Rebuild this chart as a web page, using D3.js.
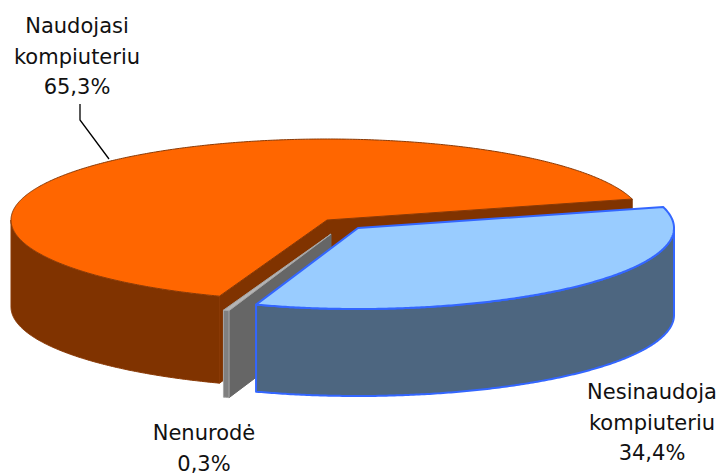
<!DOCTYPE html>
<html>
<head>
<meta charset="utf-8">
<script src="https://cdn.jsdelivr.net/npm/d3@7"></script>
<style>
  html, body { margin: 0; padding: 0; background: #fff; }
  text { font-family: "DejaVu Sans", sans-serif; font-size: 21px; fill: #111; }
</style>
</head>
<body>
<svg id="chart" width="720" height="474"></svg>
<script>
const categories = ['Naudojasi kompiuteriu', 'Nesinaudoja kompiuteriu', 'Nenurodė']
const shares = [65.3, 34.4, 0.3]
const shareLabels = ['65,3%', '34,4%', '0,3%']

const topColors = ['#ff6600', '#99ccff', '#b5b5b5']
const sideColors = ['#803300', '#4d6680', '#666666']
const edgeColors = ['#8a3a06', '#3366ff', '#a6a6a6']

const width = 720
const height = 474
const center = [327, 220]
const radiusX = 316
const radiusY = 81
const depth = 87
const explode = [[0, 0], [31, 8], [4, 14]]
const toRad = Math.PI / 180

const svg = d3.select('#chart').attr('width', width).attr('height', height)

// unit circle -> flattened ellipse
const xScale = d3.scaleLinear().domain([-1, 1]).range([center[0] - radiusX, center[0] + radiusX])
const yScale = d3.scaleLinear().domain([-1, 1]).range([center[1] - radiusY, center[1] + radiusY])

const arcs = d3.pie().sort(null).value(d => d)
  .startAngle(199.9 * toRad)
  .endAngle((199.9 + 360) * toRad)(shares)

const line = d3.line().x(d => d[0]).y(d => d[1])

function rimPoint (angle, i, drop = 0) {
  return [
    xScale(Math.sin(angle)) + explode[i][0],
    yScale(-Math.cos(angle)) + explode[i][1] + drop
  ]
}

function rim (from, to, i, drop = 0) {
  const n = Math.max(2, Math.ceil(Math.abs(to - from) / (toRad / 2)))
  return d3.range(n + 1).map(k => rimPoint(from + (to - from) * k / n, i, drop))
}

function apex (i, drop = 0) {
  return [center[0] + explode[i][0], center[1] + explode[i][1] + drop]
}

// wall under a straight cut, from the middle out to the rim
function cutWall (angle, i) {
  return [apex(i), rimPoint(angle, i), rimPoint(angle, i, depth), apex(i, depth)]
}

// only the part of the rim that faces the viewer has a wall
function outerWall (a, i) {
  const walls = []
  ;[[Math.PI / 2, 1.5 * Math.PI], [2.5 * Math.PI, 3.5 * Math.PI]].forEach(([lo, hi]) => {
    const from = Math.max(a.startAngle, lo)
    const to = Math.min(a.endAngle, hi)
    if (to > from) walls.push(rim(from, to, i).concat(rim(to, from, i, depth)))
  })
  return walls
}

function topFace (a, i) {
  return [apex(i)].concat(rim(a.startAngle, a.endAngle, i))
}

// blue never shows its cut walls, they point away from the camera
function cutsFor (a) {
  if (a.index === 1) return []
  if (a.index === 2) return [a.startAngle]
  return [a.startAngle, a.endAngle]
}

// back to front: orange, grey, then the blue slice
const drawOrder = [0, 2, 1]

drawOrder.forEach(i => {
  const a = arcs[i]
  const g = svg.append('g').attr('class', 'slice')

  cutsFor(a).forEach(angle => {
    g.append('path')
      .attr('d', line(cutWall(angle, i)) + 'Z')
      .attr('fill', sideColors[i])
      .attr('stroke', sideColors[i])
      .attr('stroke-width', 1)
  })

  outerWall(a, i).forEach(w => {
    g.append('path')
      .attr('d', line(w) + 'Z')
      .attr('fill', i === 2 ? '#808080' : sideColors[i])
      .attr('stroke', edgeColors[i])
      .attr('stroke-width', i === 1 ? 2 : 1)
      .attr('stroke-linejoin', 'round')
  })

  g.append('path')
    .attr('d', line(topFace(a, i)) + 'Z')
    .attr('fill', topColors[i])
    .attr('stroke', edgeColors[i])
    .attr('stroke-width', i === 1 ? 2 : 1)
    .attr('stroke-linejoin', 'round')
})

// leader line of the biggest slice
const leader = [[80, 104], [80, 120], [109, 159]]
svg.append('path')
  .attr('d', line(leader))
  .attr('fill', 'none')
  .attr('stroke', '#000')
  .attr('stroke-width', 1.3)

const labelLines = [
  ['Naudojasi', 'kompiuteriu', shareLabels[0]],
  ['Nesinaudoja', 'kompiuteriu', shareLabels[1]],
  [categories[2], shareLabels[2]]
]
const labelAnchors = [[77, 33], [652, 399], [204, 440]]

labelLines.forEach((lines, i) => {
  const t = svg.append('text')
    .attr('text-anchor', 'middle')
    .attr('transform', `translate(${labelAnchors[i][0]},${labelAnchors[i][1]})`)
  t.selectAll('tspan')
    .data(lines)
    .join('tspan')
    .attr('x', 0)
    .attr('y', (d, k) => k * 30.5)
    .text(d => d)
})
</script>
</body>
</html>
